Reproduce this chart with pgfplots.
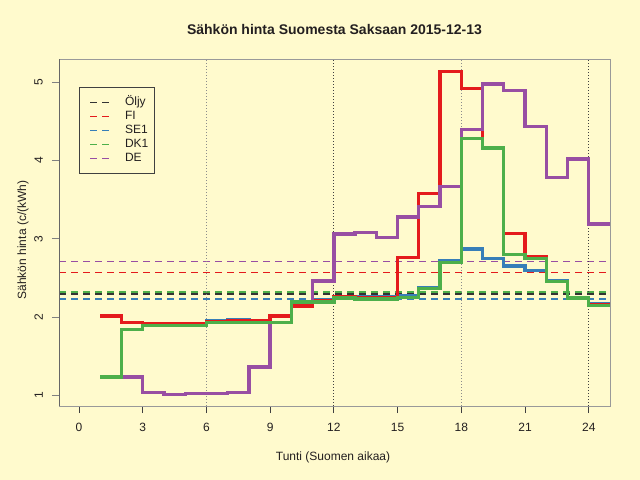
\documentclass[border=0pt]{standalone}
\usepackage{pgfplots}
\pgfplotsset{compat=1.18}
\usepackage{pgfplotstable}
\usepackage{fontspec}
\setmainfont{Liberation Sans}
\definecolor{bg}{HTML}{FFFACD}
\definecolor{fi}{HTML}{E41A1C}
\definecolor{se}{HTML}{377EB8}
\definecolor{dk}{HTML}{4DAF4A}
\definecolor{de}{HTML}{984EA3}
\definecolor{oil}{HTML}{333333}
\definecolor{txt}{HTML}{231F20}

\pgfplotstableread{
x  fi   se   dk   de
1  2.01 2.02 1.23 1.23
2  1.93 1.93 1.84 1.23
3  1.91 1.91 1.89 1.03
4  1.91 1.92 1.89 1.01
5  1.91 1.92 1.89 1.02
6  1.94 1.95 1.93 1.02
7  1.95 1.96 1.93 1.03
8  1.95 1.95 1.93 1.36
9  2.01 1.93 1.93 1.93
10 2.14 2.19 2.19 2.19
11 2.21 2.22 2.19 2.46
12 2.26 2.26 2.24 3.06
13 2.25 2.26 2.23 3.08
14 2.25 2.26 2.23 3.02
15 2.76 2.27 2.25 3.28
16 3.58 2.38 2.36 3.41
17 5.14 2.72 2.70 3.67
18 4.92 2.87 4.28 4.40
19 4.17 2.75 4.16 4.98
20 3.07 2.65 2.80 4.90
21 2.77 2.59 2.75 4.44
22 2.45 2.47 2.45 3.78
23 2.25 2.25 2.24 4.02
24 2.16 2.17 2.15 3.19
25 2.16 2.17 2.15 3.19
}\prices

\begin{document}
\begin{tikzpicture}
\useasboundingbox (0,0) rectangle (640bp,480bp);
\fill[bg] (0,0) rectangle (640bp,480bp);
\begin{axis}[
  at={(59bp,74bp)}, anchor=south west,
  scale only axis, width=551bp, height=347bp,
  xmin=-0.94, xmax=25, ymin=0.86, ymax=5.30,
  xtick={0,3,...,24}, ytick={1,2,3,4,5},
  xtick pos=bottom, ytick pos=left,
  tick align=outside, major tick length=7bp,
  xtick style={color=black!75, line width=0.8bp},
  ytick style={color=black!50, line width=0.8bp},
  axis line style={color=black!40, line width=0.8bp},
  axis background/.style={fill=bg},
  /pgf/number format/assume math mode=true,
  ticklabel style={font=\fontsize{12bp}{14bp}\selectfont, text=txt},
  xticklabel style={anchor=north, inner sep=0pt, yshift=-10bp},
  yticklabel style={xshift=-9bp, rotate=90, anchor=south, inner sep=0pt},
  clip=true,
  legend cell align=left,
  legend image code/.code={\path (0bp,0bp); \draw[#1] (3.5bp,0bp) -- (23.5bp,0bp);},
  legend style={at={(0.0363,0.919)}, anchor=north west,
    draw=black!75, fill=bg, line width=0.8bp,
    inner xsep=6.5bp, inner ysep=9bp,
    font=\fontsize{12bp}{14bp}\selectfont, text=txt,
    nodes={inner sep=0pt, text height=9bp, text depth=3bp},
    row sep=2bp,
    /tikz/every odd column/.append style={column sep=14bp}},
]
% average lines
\addplot[oil, line width=1.6bp, dash pattern=on 7bp off 5bp] coordinates {(-0.94,2.29) (25,2.29)};
\addlegendentry{Öljy}
\addplot[fi, line width=1.6bp, dash pattern=on 7bp off 5bp] coordinates {(-0.94,2.57) (25,2.57)};
\addlegendentry{FI}
\addplot[se, line width=1.6bp, dash pattern=on 7bp off 5bp] coordinates {(-0.94,2.23) (25,2.23)};
\addlegendentry{SE1}
\addplot[dk, line width=1.6bp, dash pattern=on 7bp off 5bp] coordinates {(-0.94,2.32) (25,2.32)};
\addlegendentry{DK1}
\addplot[de, line width=1.6bp, dash pattern=on 7bp off 5bp] coordinates {(-0.94,2.71) (25,2.71)};
\addlegendentry{DE}
% vertical guides
\addplot[forget plot, black!45, line width=0.9bp, dash pattern=on 1bp off 2bp] coordinates {(6,0.86) (6,5.30)};
\addplot[forget plot, black!75, line width=0.9bp, dash pattern=on 1bp off 2bp] coordinates {(12,0.86) (12,5.30)};
\addplot[forget plot, black!45, line width=0.9bp, dash pattern=on 1bp off 2bp] coordinates {(18,0.86) (18,5.30)};
\addplot[forget plot, black!75, line width=0.9bp, dash pattern=on 1bp off 2bp] coordinates {(24,0.86) (24,5.30)};
% step series
\addplot[forget plot, const plot, se, line width=3.3bp] table[x=x, y=se] {\prices};
\addplot[forget plot, const plot, fi, line width=3.3bp] table[x=x, y=fi] {\prices};
\addplot[forget plot, const plot, de, line width=3.3bp] table[x=x, y=de] {\prices};
\addplot[forget plot, const plot, dk, line width=3.3bp] table[x=x, y=dk] {\prices};
\draw[black!80, line width=0.9bp] (rel axis cs:0,0) -- (rel axis cs:1,0);
\draw[black!60, line width=0.9bp] (rel axis cs:0,0) -- (rel axis cs:0,1);
\end{axis}
\node[text=txt, font=\bfseries\fontsize{14bp}{16bp}\selectfont] at (334.5bp,450bp) {Sähkön hinta Suomesta Saksaan 2015-12-13};
\node[text=txt, font=\fontsize{12bp}{14bp}\selectfont] at (333bp,23bp) {Tunti (Suomen aikaa)};
\node[text=txt, font=\fontsize{12bp}{14bp}\selectfont, rotate=90] at (23bp,240bp) {Sähkön hinta (c/(kWh)};
\end{tikzpicture}
\end{document}
